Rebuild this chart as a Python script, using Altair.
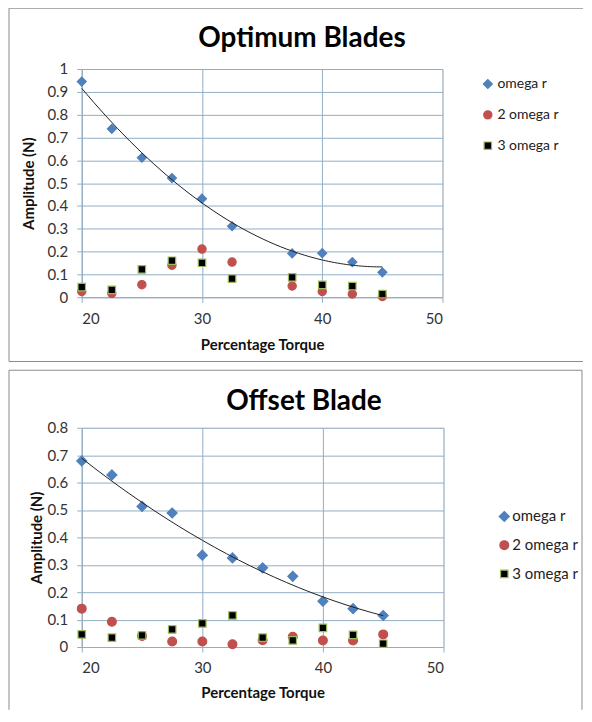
import altair as alt
import pandas as pd

# ---------------- data ----------------
series_names = ["omega r", "2 omega r", "3 omega r"]

# Optimum Blades
top_x = [20, 22.5, 25, 27.5, 30, 32.5, 37.5, 40, 42.5, 45]
top_omega = [0.945, 0.738, 0.611, 0.522, 0.432, 0.311, 0.192, 0.193, 0.154, 0.109]
top_2omega = [0.025, 0.017, 0.055, 0.140, 0.211, 0.154, 0.049, 0.025, 0.014, 0.003]
top_3omega = [0.044, 0.032, 0.122, 0.160, 0.151, 0.081, 0.087, 0.054, 0.049, 0.014]

# Offset Blade
bot_x = [20, 22.5, 25, 27.5, 30, 32.5, 35, 37.5, 40, 42.5, 45]
bot_omega = [0.679, 0.628, 0.513, 0.489, 0.335, 0.325, 0.289, 0.258, 0.167, 0.140, 0.115]
bot_2omega = [0.140, 0.092, 0.040, 0.020, 0.020, 0.010, 0.025, 0.037, 0.024, 0.024, 0.046]
bot_3omega = [0.046, 0.034, 0.042, 0.064, 0.086, 0.115, 0.034, 0.024, 0.070, 0.044, 0.012]

x_ticks = [20, 30, 40, 50]
top_y_ticks = [0, 0.1, 0.2, 0.3, 0.4, 0.5, 0.6, 0.7, 0.8, 0.9, 1.0]
bot_y_ticks = [0, 0.1, 0.2, 0.3, 0.4, 0.5, 0.6, 0.7, 0.8]

top_title = "Optimum Blades"
bot_title = "Offset Blade"

# ---------------- styles ----------------
FONT = "Lato"
GRID = "#93aec4"
FRAME = "#8c8c8c"
FILLS = ["#4F81BD", "#C0504D", "#000000"]
STROKES = ["#4F81BD", "#C0504D", "#9BBB59"]
SHAPES = ["diamond", "circle", "square"]

ONE = pd.DataFrame({"f": [0]})


def long_df(xs, a, b, c):
    rows = []
    for name, vals in zip(series_names, [a, b, c]):
        for xv, yv in zip(xs, vals):
            rows.append({"x": xv, "y": yv, "series": name})
    return pd.DataFrame(rows)


def frame_rules(left, top, right, bottom, sides):
    layers = []
    for side in sides:
        base = alt.Chart(ONE).mark_rule(color=FRAME, strokeWidth=1)
        if side == "left":
            enc = dict(x=alt.value(left), y=alt.value(top), y2=alt.value(bottom))
        elif side == "right":
            enc = dict(x=alt.value(right), y=alt.value(top), y2=alt.value(bottom))
        elif side == "top":
            enc = dict(y=alt.value(top), x=alt.value(left), x2=alt.value(right))
        else:
            enc = dict(y=alt.value(bottom), x=alt.value(left), x2=alt.value(right))
        layers.append(base.encode(**enc))
    return layers


def panel(df, title, ymax, yticks, width, height, frame, sides, title_pos,
          ytitle_x, xtitle_y, leg_x, leg_y, leg_font, leg_rowpad, leg_off, sizes):
    xscale = alt.Scale(domain=[20, 50], nice=False, zero=False)
    yscale = alt.Scale(domain=[0, ymax], nice=False)
    axis_common = dict(
        grid=True, gridColor=GRID, gridWidth=1,
        domainColor=GRID, domainWidth=1,
        tickColor=GRID, tickSize=5, tickWidth=1,
        labelFont=FONT, labelFontSize=15, labelColor="#333333",
        titleFont=FONT, titleFontSize=15, titleFontWeight="bold", titleColor="#111111",
    )
    xaxis = alt.Axis(values=x_ticks, title="Percentage Torque", labelPadding=9,
                     titleY=xtitle_y, titleBaseline="alphabetic", **axis_common)
    yaxis = alt.Axis(values=yticks, format=".1~f", title="Amplitude (N)", labelPadding=9,
                     labelOverlap=False,
                     titleX=ytitle_x, titleY=height / 2, titleAngle=270,
                     titleAlign="center", titleBaseline="middle", **axis_common)

    leg = alt.Legend(title=None, orient="none", legendX=leg_x, legendY=leg_y,
                     labelFont=FONT, labelFontSize=leg_font, labelColor="#222222",
                     rowPadding=leg_rowpad, labelOffset=leg_off, padding=0,
                     symbolStrokeWidth=1.2)

    fx0, fy0, fx1, fy1 = frame
    frame_layers = frame_rules(fx0, fy0, fx1, fy1, sides)

    tx, ty = title_pos
    title_layer = alt.Chart(ONE).mark_text(
        text=title, font=FONT, fontSize=28, fontWeight="bold", color="#000000",
        align="center", baseline="alphabetic",
    ).encode(x=alt.value(tx), y=alt.value(ty))

    points = alt.Chart(df).mark_point(filled=True, opacity=1, strokeWidth=1.2).encode(
        x=alt.X("x:Q", scale=xscale, axis=xaxis),
        y=alt.Y("y:Q", scale=yscale, axis=yaxis),
        fill=alt.Fill("series:N", scale=alt.Scale(domain=series_names, range=FILLS), legend=leg),
        stroke=alt.Stroke("series:N", scale=alt.Scale(domain=series_names, range=STROKES), legend=leg),
        shape=alt.Shape("series:N", scale=alt.Scale(domain=series_names, range=SHAPES), legend=leg),
        size=alt.Size("series:N", scale=alt.Scale(domain=series_names, range=sizes), legend=leg),
    )

    trend = alt.Chart(df).transform_filter(
        alt.datum.series == "omega r"
    ).transform_regression(
        "x", "y", method="poly", order=2, extent=[20, 45]
    ).mark_line(color="#222222", strokeWidth=1).encode(
        x=alt.X("x:Q", scale=xscale, axis=xaxis),
        y=alt.Y("y:Q", scale=yscale, axis=yaxis),
    )

    return alt.layer(*frame_layers, title_layer, points, trend).properties(
        width=width, height=height,
    )


top_df = long_df(top_x, top_omega, top_2omega, top_3omega)
bot_df = long_df(bot_x, bot_omega, bot_2omega, bot_3omega)

top = panel(top_df, top_title, 1.0, top_y_ticks, 362, 229,
            frame=(-73, -61, 503, 293.5), sides=["left", "top", "bottom"],
            title_pos=(221, -22.3),
            ytitle_x=-53.5, xtitle_y=52,
            leg_x=400.5, leg_y=8, leg_font=14, leg_rowpad=17, leg_off=2.6,
            sizes=[81, 56, 42])

bottom = panel(bot_df, bot_title, 0.8, bot_y_ticks, 363, 220,
               frame=(-73, -57.7, 502, 283), sides=["left", "top", "right"],
               title_pos=(223, -17.7),
               ytitle_x=-45, xtitle_y=51,
               leg_x=416.5, leg_y=81.5, leg_font=15, leg_rowpad=12.8, leg_off=0.5,
               sizes=[100, 56, 42])

chart = alt.vconcat(top, bottom, spacing=6).resolve_scale(
    fill="independent", stroke="independent", shape="independent", size="independent",
    x="independent", y="independent",
).properties(
    padding={"left": 0, "top": -2, "right": 0, "bottom": 0}
).configure_view(stroke=None).configure(background="white")

chart.save("out.html", embed_options={"renderer": "svg", "actions": False})
